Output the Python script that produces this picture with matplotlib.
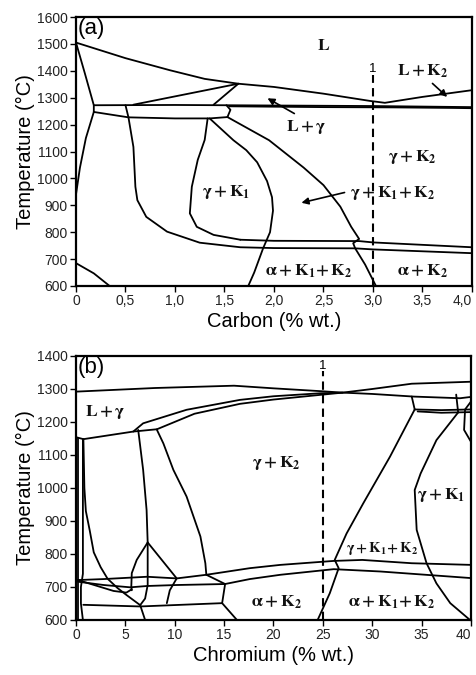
import matplotlib
matplotlib.use("Agg")
import matplotlib.pyplot as plt

plt.rcParams['font.family'] = ['Liberation Sans', 'DejaVu Sans']
plt.rcParams['mathtext.fontset'] = 'stix'

# ---- panel (a): Fe-C section, boundaries as (carbon %, T degC) ----
A_LIQUIDUS = [(0, 1505), (0.5, 1447), (0.95, 1402), (1.3, 1370), (1.64, 1352),
              (2.0, 1340), (2.5, 1315), (2.97, 1288), (3.12, 1281), (3.5, 1303), (4.0, 1328)]
A_EUTECTIC_TOP = [(0.18, 1272), (1.0, 1273), (2.0, 1271), (3.0, 1269), (4.0, 1265)]
A_EUTECTIC_LOW = [(1.55, 1268), (2.5, 1265), (3.2, 1264), (3.8, 1262), (4.0, 1261)]
A_DELTA = [(0, 1505), (0.09, 1390), (0.18, 1272), (0.18, 1247)]
A_GAMMA_LEFT = [(0.18, 1247), (0.1, 1150), (0.04, 1040), (0, 940)]
A_STEP = [(0.18, 1247), (0.53, 1227)]
A_BAND_LEFT = [(0.5, 1272), (0.53, 1227)]
A_BAND_BOTTOM = [(0.53, 1227), (1.0, 1223), (1.35, 1223), (1.53, 1228)]
A_BAND_RIGHT = [(1.52, 1272), (1.56, 1255), (1.53, 1228)]
A_TRI_LEFT = [(0.58, 1274), (1.64, 1352)]
A_TRI_RIGHT = [(1.39, 1274), (1.64, 1352)]
A_OUTER = [(0.53, 1227), (0.58, 1117), (0.6, 969), (0.62, 919), (0.71, 857), (0.92, 802),
           (1.25, 761), (1.66, 744), (2.0, 741), (2.82, 740), (3.0, 736), (3.5, 729), (4.0, 722)]
A_K1K2 = [(1.53, 1228), (1.95, 1142), (2.3, 1040), (2.5, 975), (2.67, 895), (2.78, 820),
          (2.86, 775), (2.80, 759), (2.82, 740), (2.92, 680), (3.03, 600)]
A_INNER_LEFT = [(1.33, 1223), (1.30, 1143), (1.23, 1069), (1.17, 969), (1.15, 870),
                (1.22, 820), (1.39, 790), (1.66, 772)]
A_EUTECTOID = [(1.66, 772), (2.0, 768), (2.86, 767), (3.0, 762), (3.5, 753), (4.0, 744)]
A_INNER_RIGHT = [(1.35, 1223), (1.59, 1142), (1.72, 1105), (1.83, 1060), (1.93, 990),
                 (1.98, 930), (1.99, 880), (1.96, 800), (1.89, 740), (1.80, 650), (1.74, 600)]
A_FERRITE = [(0, 685), (0.18, 647), (0.34, 600)]
A_SECTION = 3.0

# ---- panel (b): Fe-Cr section, boundaries as (chromium %, T degC) ----
B_LIQUIDUS = [(0, 1292), (8, 1303), (16, 1310), (20, 1302), (25, 1293), (27, 1289),
              (30, 1300), (34, 1316), (40, 1322)]
B_SOL_UPPER = [(5.8, 1171), (6.8, 1196), (11.2, 1237), (16.6, 1267), (20, 1278),
               (24.7, 1287), (27, 1289), (30, 1285), (34.2, 1277), (38.9, 1272), (40, 1276)]
B_SOL_LOWER = [(8.2, 1178), (12, 1225), (16.6, 1255), (20, 1268), (24, 1280), (27, 1289)]
B_LG_BOTTOM = [(0, 1154), (0.75, 1148), (5.8, 1171), (8.2, 1178)]
B_LEFT_V1 = [(0.25, 1152), (0.25, 600)]
B_LEFT_V2 = [(0.7, 1148), (0.7, 740), (0.5, 700), (0.5, 650), (0.7, 600)]
B_MAIN = [(0.75, 1148), (0.85, 1000), (1.0, 930), (1.4, 870), (1.8, 805), (2.5, 760),
          (3.2, 725), (4.2, 697), (5.1, 676), (6.5, 645), (7.0, 600)]
B_V7 = [(6.3, 1176), (6.8, 1055), (7.15, 933), (7.26, 835), (7.26, 731), (7.26, 706),
        (7.0, 665), (6.5, 645)]
B_TRI_LEFT = [(7.26, 835), (6.15, 782), (5.65, 742), (5.6, 700), (5.65, 690)]
B_TRI_RIGHT = [(7.26, 835), (10.2, 726), (9.5, 690), (9.2, 651)]
B_RIGHT = [(8.2, 1176), (8.85, 1135), (9.86, 1055), (11.2, 974), (12.6, 853),
           (13.1, 772), (13.2, 737)]
B_EUTECTOID_UP = [(0.2, 721), (2.8, 724), (7.2, 731), (10.2, 726), (13.2, 737), (14.3, 742),
                  (17.6, 757), (20.7, 767), (26.1, 779), (29, 782), (34, 772), (40, 767)]
B_EUTECTOID_LOW = [(0.2, 716), (2.8, 706), (5.5, 699), (7.2, 703), (10.2, 706), (15.1, 709),
                   (17.6, 724), (20.7, 737), (26.1, 754), (30.8, 747), (40, 727)]
B_JOIN = [(13.2, 737), (15.1, 709)]
B_LOOP = [(0.2, 721), (3.8, 688), (5.1, 683), (5.65, 693)]
B_650 = [(0.74, 646), (6.5, 641), (14.8, 651)]
B_V15 = [(15.1, 709), (14.8, 651), (16.3, 600)]
B_K2_EDGE = [(34.3, 1238), (31.8, 1095), (29.1, 954), (27.4, 862), (26.2, 782),
             (26.6, 757), (25.7, 681), (24.5, 602)]
B_K1_LEFT = [(38.7, 1229), (36.5, 1145), (34.9, 1044), (34.3, 994), (34.5, 873),
             (35.5, 772), (36.5, 711), (37.9, 651), (39.9, 600)]
B_K1_RIGHT = [(40, 1262), (39.4, 1238), (39.3, 1176), (40, 1140)]
B_BOX_LEFT = [(34.0, 1277), (34.3, 1238)]
B_BOX_TOP = [(34.3, 1238), (37, 1236), (40, 1238)]
B_BOX_BOTTOM = [(34.6, 1232), (37, 1228), (40, 1230)]
B_BOX_RIGHT = [(38.5, 1283), (38.7, 1229)]
B_SECTION = 25

A_XTICKS = [0, 0.5, 1.0, 1.5, 2.0, 2.5, 3.0, 3.5, 4.0]
A_XTICKLABELS = ['0', '0,5', '1,0', '1,5', '2,0', '2,5', '3,0', '3,5', '4,0']


def draw(ax, curve, **kw):
    xs = [p[0] for p in curve]
    ys = [p[1] for p in curve]
    ax.plot(xs, ys, color='black', lw=1.3, solid_capstyle='round', **kw)


def style(ax):
    for s in ax.spines.values():
        s.set_linewidth(1.6)
    ax.tick_params(direction='out', length=4, width=1.0, labelsize=10,
                   labelcolor='#222222', pad=2)


def phase(ax, x, y, txt, size=12.5):
    ax.text(x, y, txt, ha='center', va='center', fontsize=size, color='#111111')


def arrow(ax, tail, head):
    ax.annotate('', xy=head, xytext=tail,
                arrowprops=dict(arrowstyle='-|>', lw=1.2, color='black', mutation_scale=10))


fig = plt.figure(figsize=(4.77, 6.75), dpi=100)

# ---------------- (a) ----------------
ax = fig.add_axes([0.1593, 0.5763, 0.8302, 0.3985])
for c in [A_LIQUIDUS, A_EUTECTIC_TOP, A_EUTECTIC_LOW, A_DELTA, A_GAMMA_LEFT, A_STEP,
          A_BAND_LEFT, A_BAND_BOTTOM, A_BAND_RIGHT, A_TRI_LEFT, A_TRI_RIGHT, A_OUTER,
          A_K1K2, A_INNER_LEFT, A_EUTECTOID, A_INNER_RIGHT, A_FERRITE]:
    draw(ax, c)
ax.plot([A_SECTION, A_SECTION], [600, 1385], color='black', lw=1.5, ls=(0, (4, 2.5)))
ax.text(A_SECTION, 1383, '1', ha='center', va='bottom', fontsize=9.5)
ax.set_xlim(0, 4.0)
ax.set_ylim(600, 1600)
ax.set_xticks(A_XTICKS)
ax.set_xticklabels(A_XTICKLABELS)
ax.set_yticks(range(600, 1601, 100))
style(ax)
ax.get_xticklabels()[-1].set_horizontalalignment('right')
ax.set_xlabel('Carbon (% wt.)', fontsize=14.5, labelpad=3)
ax.set_ylabel('Temperature (°C)', fontsize=14.5, labelpad=1)
ax.text(0.003, 0.995, '(a)', transform=ax.transAxes, ha='left', va='top', fontsize=16)

phase(ax, 2.5, 1495, r'$\mathbf{L}$')
phase(ax, 3.5, 1400, r'$\mathbf{L + K_2}$')
arrow(ax, (3.58, 1360), (3.77, 1296))
phase(ax, 2.33, 1192, r'$\mathbf{L + \gamma}$')
arrow(ax, (2.23, 1236), (1.91, 1303))
phase(ax, 3.4, 1080, r'$\mathbf{\gamma + K_2}$')
phase(ax, 1.52, 950, r'$\mathbf{\gamma + K_1}$')
phase(ax, 3.2, 944, r'$\mathbf{\gamma + K_1\!+ K_2}$')
arrow(ax, (2.74, 950), (2.25, 907))
phase(ax, 2.35, 653, r'$\mathbf{\alpha + K_1\!+ K_2}$')
phase(ax, 3.5, 653, r'$\mathbf{\alpha + K_2}$')

# ---------------- (b) ----------------
bx = fig.add_axes([0.1593, 0.0815, 0.8281, 0.3911])
for c in [B_LIQUIDUS, B_SOL_UPPER, B_SOL_LOWER, B_LG_BOTTOM, B_LEFT_V1, B_LEFT_V2, B_MAIN,
          B_V7, B_TRI_LEFT, B_TRI_RIGHT, B_RIGHT, B_EUTECTOID_UP, B_EUTECTOID_LOW, B_JOIN,
          B_LOOP, B_650, B_V15, B_K2_EDGE, B_K1_LEFT, B_K1_RIGHT, B_BOX_LEFT, B_BOX_TOP,
          B_BOX_BOTTOM, B_BOX_RIGHT]:
    draw(bx, c)
bx.plot([B_SECTION, B_SECTION], [600, 1355], color='black', lw=1.5, ls=(0, (4, 2.5)))
bx.text(B_SECTION, 1352, '1', ha='center', va='bottom', fontsize=9.5)
bx.set_xlim(0, 40)
bx.set_ylim(600, 1400)
bx.set_xticks(range(0, 41, 5))
bx.set_yticks(range(600, 1401, 100))
style(bx)
bx.get_xticklabels()[-1].set_horizontalalignment('right')
bx.set_xlabel('Chromium (% wt.)', fontsize=14.5, labelpad=3)
bx.set_ylabel('Temperature (°C)', fontsize=14.5, labelpad=1)
bx.text(0.003, 0.995, '(b)', transform=bx.transAxes, ha='left', va='top', fontsize=16)

phase(bx, 3.0, 1231, r'$\mathbf{L + \gamma}$')
phase(bx, 20.3, 1075, r'$\mathbf{\gamma + K_2}$')
phase(bx, 37.0, 979, r'$\mathbf{\gamma + K_1}$')
phase(bx, 31.0, 817, r'$\mathbf{\gamma + K_1\!+ K_2}$', size=10.5)
phase(bx, 20.3, 655, r'$\mathbf{\alpha + K_2}$')
phase(bx, 32.0, 655, r'$\mathbf{\alpha + K_1\!+ K_2}$')

fig.savefig('out.png', dpi=100)
